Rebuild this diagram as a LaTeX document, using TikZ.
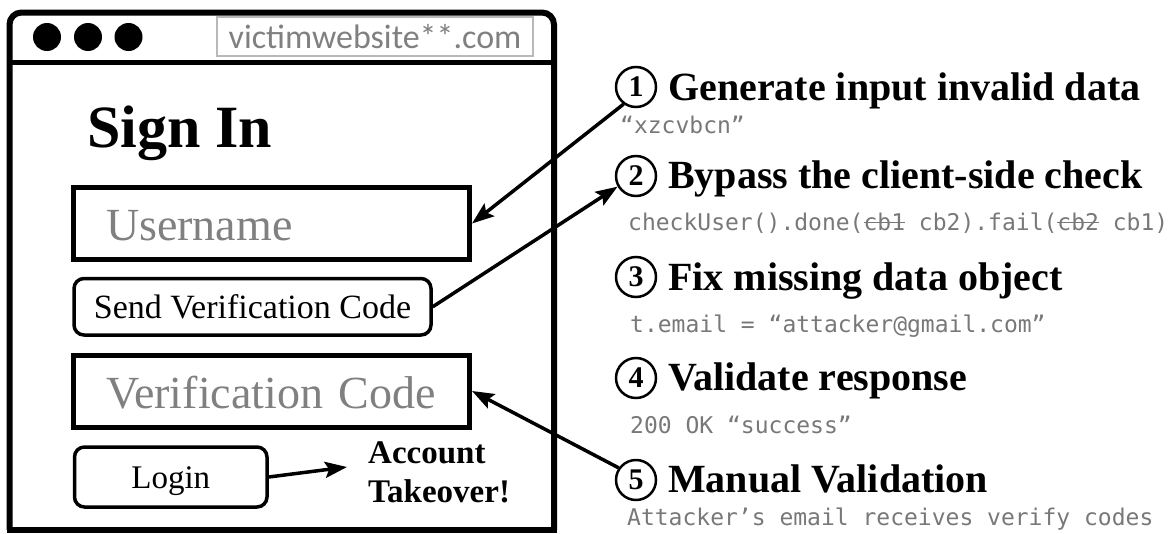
\documentclass[tikz,border=0pt]{standalone}
\usepackage{fontspec}
\setmainfont{Liberation Serif}
\newfontfamily\urlfont{Carlito}
\newfontfamily\codefont{DejaVu Sans Mono}
\usetikzlibrary{arrows.meta}

% struck-out code text
\newcommand{\strk}[1]{\setbox0\hbox{#1}\rlap{\rule[0.3em]{\wd0}{1.2pt}}\box0\relax}

\definecolor{hint}{RGB}{128,128,128}
\definecolor{codegray}{RGB}{120,120,120}
\definecolor{urlframe}{RGB}{185,185,185}

\begin{document}
\begin{tikzpicture}[x=1pt,y=-1pt,
  winframe/.style={line width=6pt},
  inputfield/.style={draw, line width=5pt, minimum width=396pt, minimum height=72pt,
    inner ysep=0pt, inner xsep=32.5pt, text width=331pt, align=left,
    font=\fontsize{46}{50}\selectfont, text=hint, text height=34pt, text depth=0pt},
  uibutton/.style={draw, line width=3.5pt, rounded corners=10pt, inner sep=0pt,
    text height=23pt, text depth=0pt},
  stepnum/.style={draw, circle, line width=2.5pt, minimum size=40pt, inner sep=0pt,
    font=\bfseries\fontsize{30}{30}\selectfont},
  steptitle/.style={anchor=base west, inner sep=0pt, font=\bfseries\fontsize{40}{44}\selectfont},
  stepcode/.style={anchor=base west, inner sep=0pt, text=codegray,
    font=\codefont\fontsize{23}{26}\selectfont},
  steplink/.style={line width=3.5pt, -{Stealth[length=22pt,width=16pt,inset=4pt]}},
]
\useasboundingbox (0,0) rectangle (1174,533);

% browser window
\draw[winframe, rounded corners=12pt] (9.5,530) -- (9.5,12.5) -- (554,12.5) -- (554,530);
\draw[line width=6pt] (6.5,530) -- (557,530);
\draw[line width=5pt] (9.5,62) -- (554,62);
\fill (47,37) circle[radius=14pt];
\fill (88,37) circle[radius=14pt];
\fill (128.5,37) circle[radius=14pt];
\node[draw=urlframe, line width=1.5pt, minimum width=316pt, minimum height=39pt, inner sep=0pt,
  font=\urlfont\fontsize{34}{36}\selectfont, text=hint] (url) at (375,36.5) {victimwebsite**.com};

% sign-in form
\node[anchor=base west, inner sep=0pt, font=\bfseries\fontsize{60}{66}\selectfont] (signin) at (87,147) {Sign In};
\node[inputfield] (user) at (271.5,223.5) {Username};
\node[uibutton, minimum width=357pt, minimum height=56.5pt, font=\fontsize{34}{38}\selectfont]
  (send) at (252.5,306.75) {Send Verification Code};
\node[inputfield] (vc) at (271.5,391) {Verification Code};
\node[uibutton, minimum width=192.5pt, minimum height=60pt, font=\fontsize{33}{36}\selectfont]
  (login) at (170.75,477) {Login};
\node[anchor=west, inner sep=0pt, align=left, font=\bfseries\fontsize{33}{39}\selectfont]
  (ato) at (368,472.5) {Account\\Takeover!};
\coordinate (atoin) at (347,467);
\draw[steplink] (login.east) -- (atoin);

% attack steps
\node[stepnum] (c1) at (636,87) {1};
\node[steptitle] (t1) at (668,100) {Generate input invalid data};
\node[stepcode] (k1) at (620,133) {“xzcvbcn”};

\node[stepnum] (c2) at (636,176) {2};
\node[steptitle] (t2) at (668,188) {Bypass the client-side check};
\node[stepcode] (k2) at (628,230) {checkUser().done(\strk{cb1} cb2).fail(\strk{cb2} cb1)};

\node[stepnum] (c3) at (636,277) {3};
\node[steptitle] (t3) at (668,290) {Fix missing data object};
\node[stepcode] (k3) at (630,332) {t.email = “attacker@gmail.com”};

\node[stepnum] (c4) at (636,378) {4};
\node[steptitle] (t4) at (668,390) {Validate response};
\node[stepcode] (k4) at (630,433) {200 OK “success”};

\node[stepnum] (c5) at (636,480) {5};
\node[steptitle] (t5) at (668,492) {Manual Validation};
\node[stepcode] (k5) at (627,525) {Attacker’s email receives verify codes};

% step connectors
\draw[steplink] (c1.234) -- (user.east);
\draw[steplink] (send.east) -- (c2.210);
\draw[steplink] (c5.145) -- (vc.east);
\end{tikzpicture}
\end{document}
